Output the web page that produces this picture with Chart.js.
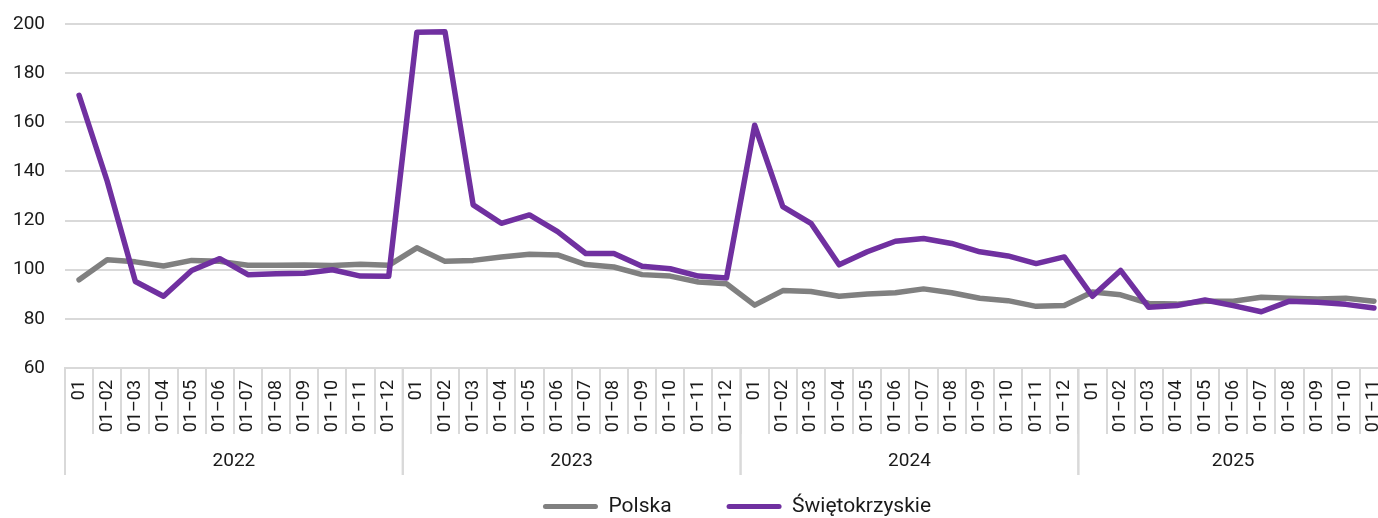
<!DOCTYPE html>
<html>
<head>
<meta charset="utf-8">
<script src="https://cdn.jsdelivr.net/npm/chart.js@4"></script>
<style>
html,body{margin:0;padding:0;background:#fff;overflow:hidden;}
#wrap{width:1474px;height:518px;}
</style>
</head>
<body>
<div id="wrap"><canvas id="c" width="1474" height="518"></canvas></div>
<script>
const years = ['2022', '2023', '2024', '2025'];
const yearCounts = [12, 12, 12, 11];
const periods = ['01', '01–02', '01–03', '01–04', '01–05', '01–06', '01–07', '01–08', '01–09', '01–10', '01–11', '01–12'];
const yTicks = [60, 80, 100, 120, 140, 160, 180, 200];

const polska = [95.9, 104.1, 103.2, 101.5, 103.8, 103.4, 101.8, 101.8, 101.9, 101.7, 102.2, 101.8,
  108.9, 103.4, 103.8, 105.2, 106.3, 106.0, 102.1, 101.1, 98.0, 97.4, 95.0, 94.3,
  85.6, 91.5, 91.1, 89.2, 90.1, 90.6, 92.2, 90.6, 88.4, 87.4, 85.1, 85.4,
  90.9, 89.8, 86.3, 86.0, 87.2, 87.2, 88.8, 88.4, 88.1, 88.4, 87.2];
const swietokrzyskie = [171.0, 136.0, 95.2, 89.2, 99.7, 104.5, 98.0, 98.4, 98.6, 100.0, 97.4, 97.3,
  196.6, 196.8, 126.4, 118.9, 122.3, 115.5, 106.6, 106.6, 101.4, 100.4, 97.4, 96.6,
  158.8, 125.7, 118.9, 102.0, 107.3, 111.6, 112.7, 110.7, 107.3, 105.6, 102.5, 105.2,
  89.2, 99.7, 84.7, 85.4, 87.7, 85.4, 82.9, 87.2, 86.8, 85.9, 84.4];

const labels = [];
yearCounts.forEach(n => { for (let i = 0; i < n; i++) labels.push(periods[i]); });

const FONT = 'Roboto, "Liberation Sans", sans-serif';
const GRID = '#d9d9d9';
const TEXT = '#1a1a1a';

const yearPlugin = {
  id: 'yearGroups',
  afterDraw(chart) {
    const xs = chart.scales.x;
    const ctx = chart.ctx;
    const step = xs.getPixelForValue(1) - xs.getPixelForValue(0);
    const top = chart.chartArea.bottom;
    const bottomLine = top + 107;
    ctx.save();
    ctx.strokeStyle = GRID;
    ctx.lineWidth = 2;
    ctx.fillStyle = TEXT;
    ctx.font = '19px ' + FONT;
    ctx.textAlign = 'center';
    ctx.textBaseline = 'middle';
    let start = 0;
    years.forEach((y, k) => {
      const end = start + yearCounts[k] - 1;
      const x0 = xs.getPixelForValue(start) - step / 2;
      const x1 = xs.getPixelForValue(end) + step / 2;
      ctx.beginPath();
      ctx.moveTo(x0, top); ctx.lineTo(x0, bottomLine);
      ctx.moveTo(x1, top); ctx.lineTo(x1, bottomLine);
      ctx.stroke();
      ctx.fillText(y, (x0 + x1) / 2, top + 93);
      start = end + 1;
    });
    ctx.restore();
  }
};

new Chart(document.getElementById('c'), {
  type: 'line',
  data: {
    labels: labels,
    datasets: [
      {
        label: 'Polska',
        data: polska,
        borderColor: '#808080',
        backgroundColor: '#808080',
        borderWidth: 5.5,
        pointRadius: 0,
        tension: 0,
        borderCapStyle: 'round',
        borderJoinStyle: 'round',
        order: 1
      },
      {
        label: 'Świętokrzyskie',
        data: swietokrzyskie,
        borderColor: '#7030A0',
        backgroundColor: '#7030A0',
        borderWidth: 5.5,
        pointRadius: 0,
        tension: 0,
        borderCapStyle: 'round',
        borderJoinStyle: 'round',
        order: 0
      }
    ]
  },
  options: {
    responsive: false,
    animation: false,
    layout: { padding: { top: 24, left: 0, right: 0, bottom: -9 } },
    plugins: {
      tooltip: { enabled: false },
      legend: {
        position: 'bottom',
        align: 'center',
        labels: {
          boxWidth: 55,
          boxHeight: 5,
          padding: 55,
          useBorderRadius: true,
          borderRadius: 2.5,
          color: TEXT,
          font: { family: FONT, size: 21 },
          sort: (a, b) => a.datasetIndex - b.datasetIndex,
          generateLabels(chart) {
            const items = Chart.defaults.plugins.legend.labels.generateLabels(chart);
            items.forEach(it => { it.lineWidth = 0; it.fillStyle = it.strokeStyle; it.borderRadius = 2.5; });
            return items;
          }
        }
      }
    },
    scales: {
      x: {
        type: 'category',
        offset: true,
        grid: {
          offset: true,
          drawOnChartArea: false,
          drawTicks: true,
          tickLength: 66,
          color: GRID,
          lineWidth: 2
        },
        border: { display: true, color: GRID, width: 2 },
        ticks: {
          autoSkip: false,
          minRotation: 90,
          maxRotation: 90,
          padding: -54,
          color: TEXT,
          font: { family: FONT, size: 18 }
        },
        afterFit(s) { s.height = 73; }
      },
      y: {
        min: 60,
        max: 200,
        afterBuildTicks(s) { s.ticks = yTicks.map(v => ({ value: v })); },
        grid: { color: GRID, lineWidth: 2, drawTicks: false },
        border: { display: false },
        ticks: {
          padding: 20,
          color: TEXT,
          font: { family: FONT, size: 19 }
        },
        afterFit(s) { s.width = 65; s.paddingTop = 0; s.paddingBottom = 0; }
      },
      yR: {
        position: 'right',
        min: 60,
        max: 200,
        grid: { display: false, drawTicks: false },
        border: { display: false },
        ticks: { display: false },
        afterFit(s) { s.width = 86; }
      }
    }
  },
  plugins: [yearPlugin]
});
</script>
</body>
</html>
